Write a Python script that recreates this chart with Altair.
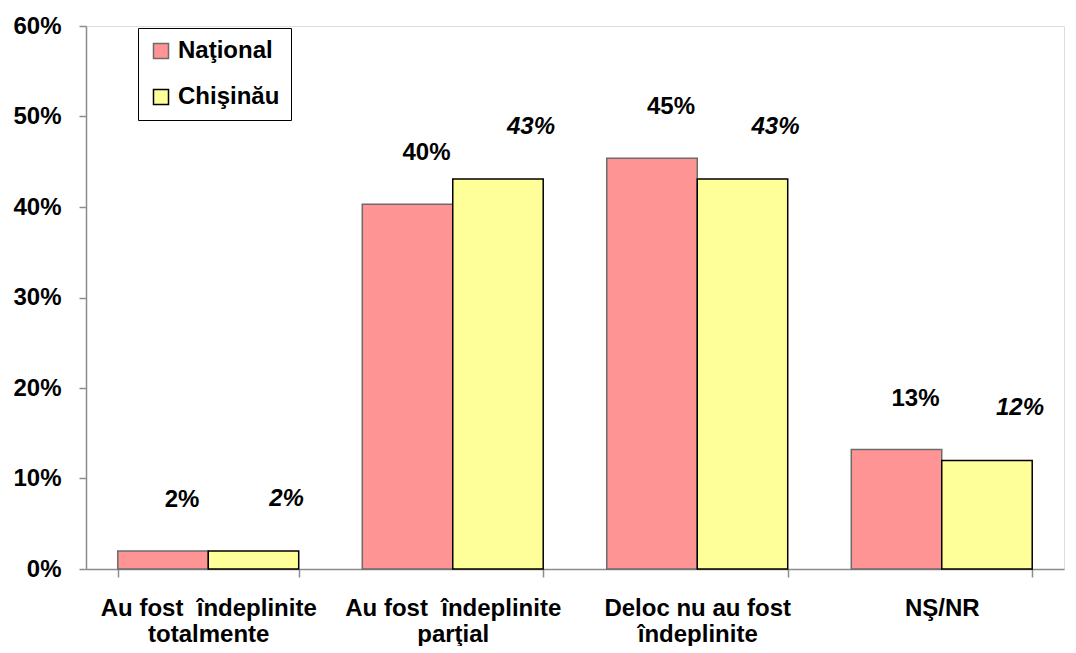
import altair as alt
import pandas as pd

categories = [
    "Au fost \u00a0îndeplinite\ntotalmente",
    "Au fost \u00a0îndeplinite\nparţial",
    "Deloc nu au fost\nîndeplinite",
    "NŞ/NR",
]
series = ["Naţional", "Chişinău"]
national = [0.02, 0.403, 0.454, 0.132]
chisinau = [0.02, 0.431, 0.431, 0.12]
fill_colors = ["#FF9494", "#FFFF99"]
stroke_colors = ["#6b6b6b", "#000000"]
y_ticks = [0.0, 0.1, 0.2, 0.3, 0.4, 0.5, 0.6]

rows = []
for c, n, k in zip(categories, national, chisinau):
    rows.append({"cat": c, "series": series[0], "value": n})
    rows.append({"cat": c, "series": series[1], "value": k})
df = pd.DataFrame(rows)

FONT = "Liberation Sans"

x_enc = alt.X(
    "cat:N",
    sort=categories,
    title=None,
    scale=alt.Scale(paddingInner=0.26, paddingOuter=0.13),
    axis=alt.Axis(
        labelAngle=0,
        labelExpr="split(datum.label, '\\n')",
        labelLimit=0,
        tickBand="extent",
        labelFont=FONT,
        labelFontSize=24,
        labelFontWeight="bold",
        labelColor="#000000",
        labelPadding=19,
        labelLineHeight=26,
        labelBaseline="top",
        domainColor="#8c8c8c",
        domainWidth=1.5,
        tickColor="#8c8c8c",
        tickWidth=1.5,
        tickSize=8,
        grid=False,
    ),
)
xoff = alt.XOffset("series:N", sort=series, scale=alt.Scale(paddingInner=0, paddingOuter=0))
y_enc = alt.Y(
    "value:Q",
    title=None,
    scale=alt.Scale(domain=[0, 0.6], nice=False),
    axis=alt.Axis(
        values=y_ticks,
        format=".0%",
        labelFont=FONT,
        labelFontSize=24,
        labelFontWeight="bold",
        labelColor="#000000",
        labelPadding=18,
        domainColor="#8c8c8c",
        domainWidth=1.5,
        tickColor="#8c8c8c",
        tickWidth=1.5,
        tickSize=7,
        grid=False,
    ),
)

bars = alt.Chart(df).mark_bar(strokeWidth=1.5).encode(
    x=x_enc,
    xOffset=xoff,
    y=y_enc,
    color=alt.Color(
        "series:N",
        sort=series,
        scale=alt.Scale(domain=series, range=fill_colors),
        legend=alt.Legend(
            title=None,
            orient="none",
            legendX=52,
            legendY=2,
            direction="vertical",
            strokeColor="#000000",
            fillColor="#ffffff",
            padding=11,
            labelFont=FONT,
            labelFontSize=24,
            labelFontWeight="bold",
            labelColor="#000000",
            labelOffset=5,
            labelLimit=0,
            symbolType="square",
            symbolSize=225,
            symbolStrokeColor="#000000",
            symbolStrokeWidth=1.5,
            rowPadding=22,
        ),
    ),
    stroke=alt.Stroke(
        "series:N",
        sort=series,
        scale=alt.Scale(domain=series, range=stroke_colors),
        legend=None,
    ),
)

text_nat = alt.Chart(df).transform_filter(
    alt.datum.series == series[0]
).mark_text(
    font=FONT, fontSize=24, fontWeight="bold", color="#000000",
    baseline="middle", align="center", dx=19, dy=-51,
).encode(
    x=alt.X("cat:N", sort=categories),
    xOffset=xoff,
    y=alt.Y("value:Q"),
    text=alt.Text("value:Q", format=".0%"),
)

text_chi = alt.Chart(df).transform_filter(
    alt.datum.series == series[1]
).mark_text(
    font=FONT, fontSize=24, fontWeight="bold", fontStyle="italic", color="#000000",
    baseline="middle", align="center", dx=33, dy=-52,
).encode(
    x=alt.X("cat:N", sort=categories),
    xOffset=xoff,
    y=alt.Y("value:Q"),
    text=alt.Text("value:Q", format=".0%"),
)

chart = (
    alt.layer(bars, text_nat, text_chi)
    .properties(width=978, height=543, padding={"left": 4, "top": 6, "right": 3, "bottom": 0})
    .configure_view(stroke=None)
    .configure(background="#ffffff")
)

chart.save("out.html", embed_options={"renderer": "svg", "actions": False})
